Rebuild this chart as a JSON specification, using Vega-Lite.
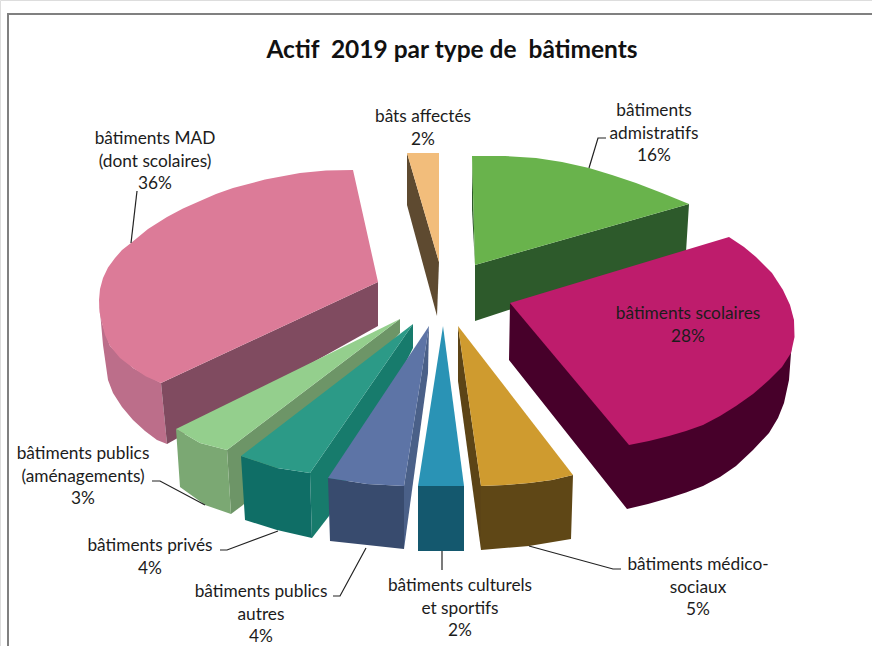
{"$schema":"https://vega.github.io/schema/vega-lite/v6.json","width":872,"height":646,"autosize":{"type":"none"},"padding":0,"background":"white","title":{"text":"Actif \u00a02019 par type de \u00a0bâtiments","orient":"none","anchor":"start","align":"center","baseline":"alphabetic","dx":452,"dy":58,"font":"Lato","fontSize":24.5,"fontWeight":"bold","color":"#111111"},"datasets":{"faces":[
{"face":"mad_ext","n":1,"h":99,"v":300},{"face":"mad_ext","n":2,"h":102,"v":323},{"face":"mad_ext","n":3,"h":110,"v":346},{"face":"mad_ext","n":4,"h":133,"v":368},{"face":"mad_ext","n":5,"h":161,"v":383},{"face":"mad_ext","n":6,"h":167,"v":444},{"face":"mad_ext","n":7,"h":157,"v":440},{"face":"mad_ext","n":8,"h":145,"v":431},{"face":"mad_ext","n":9,"h":133,"v":420},{"face":"mad_ext","n":10,"h":122,"v":407},{"face":"mad_ext","n":11,"h":113,"v":393},{"face":"mad_ext","n":12,"h":108,"v":380},{"face":"mad_ext","n":13,"h":106,"v":366},{"face":"mad_ext","n":14,"h":103,"v":345},
{"face":"mad_coupe","n":1,"h":378,"v":282},{"face":"mad_coupe","n":2,"h":378,"v":326},{"face":"mad_coupe","n":3,"h":167,"v":444},{"face":"mad_coupe","n":4,"h":161,"v":383},
{"face":"mad_dessus","n":1,"h":353,"v":170},{"face":"mad_dessus","n":2,"h":378,"v":282},{"face":"mad_dessus","n":3,"h":161,"v":383},{"face":"mad_dessus","n":4,"h":146,"v":376.5},{"face":"mad_dessus","n":5,"h":133,"v":368},{"face":"mad_dessus","n":6,"h":120,"v":358},{"face":"mad_dessus","n":7,"h":110,"v":346},{"face":"mad_dessus","n":8,"h":105,"v":335},{"face":"mad_dessus","n":9,"h":102,"v":323},{"face":"mad_dessus","n":10,"h":99.5,"v":312},{"face":"mad_dessus","n":11,"h":99,"v":300},{"face":"mad_dessus","n":12,"h":100,"v":289},{"face":"mad_dessus","n":13,"h":103,"v":278},{"face":"mad_dessus","n":14,"h":108,"v":267.5},{"face":"mad_dessus","n":15,"h":115,"v":258},{"face":"mad_dessus","n":16,"h":122,"v":250},{"face":"mad_dessus","n":17,"h":131,"v":243},{"face":"mad_dessus","n":18,"h":148,"v":229},{"face":"mad_dessus","n":19,"h":167,"v":217},{"face":"mad_dessus","n":20,"h":183,"v":208.5},{"face":"mad_dessus","n":21,"h":200,"v":201},{"face":"mad_dessus","n":22,"h":216,"v":194},{"face":"mad_dessus","n":23,"h":233,"v":188},{"face":"mad_dessus","n":24,"h":265,"v":179.5},{"face":"mad_dessus","n":25,"h":300,"v":173},{"face":"mad_dessus","n":26,"h":326,"v":170.5},
{"face":"aff_cote","n":1,"h":407,"v":153},{"face":"aff_cote","n":2,"h":407,"v":205},{"face":"aff_cote","n":3,"h":437,"v":316},{"face":"aff_cote","n":4,"h":439,"v":262},
{"face":"aff_dessus","n":1,"h":407,"v":153},{"face":"aff_dessus","n":2,"h":439,"v":153},{"face":"aff_dessus","n":3,"h":439,"v":262},
{"face":"adm_cote","n":1,"h":472,"v":156},{"face":"adm_cote","n":2,"h":472,"v":210},{"face":"adm_cote","n":3,"h":475,"v":265},
{"face":"adm_coupe","n":1,"h":689,"v":204},{"face":"adm_coupe","n":2,"h":686,"v":252},{"face":"adm_coupe","n":3,"h":475,"v":321},{"face":"adm_coupe","n":4,"h":475,"v":265},
{"face":"adm_dessus","n":1,"h":472,"v":156},{"face":"adm_dessus","n":2,"h":505,"v":156},{"face":"adm_dessus","n":3,"h":536,"v":158},{"face":"adm_dessus","n":4,"h":562,"v":162},{"face":"adm_dessus","n":5,"h":589,"v":168},{"face":"adm_dessus","n":6,"h":612,"v":175},{"face":"adm_dessus","n":7,"h":636,"v":183},{"face":"adm_dessus","n":8,"h":662,"v":193},{"face":"adm_dessus","n":9,"h":689,"v":204},{"face":"adm_dessus","n":10,"h":475,"v":265},
{"face":"sco_cote","n":1,"h":510,"v":303},{"face":"sco_cote","n":2,"h":509,"v":360},{"face":"sco_cote","n":3,"h":627,"v":509},{"face":"sco_cote","n":4,"h":648,"v":504},{"face":"sco_cote","n":5,"h":669,"v":498},{"face":"sco_cote","n":6,"h":686,"v":492.5},{"face":"sco_cote","n":7,"h":703,"v":486},{"face":"sco_cote","n":8,"h":720,"v":477},{"face":"sco_cote","n":9,"h":736,"v":466},{"face":"sco_cote","n":10,"h":753,"v":450},{"face":"sco_cote","n":11,"h":769,"v":433},{"face":"sco_cote","n":12,"h":778,"v":418},{"face":"sco_cote","n":13,"h":784,"v":403},{"face":"sco_cote","n":14,"h":789,"v":380},{"face":"sco_cote","n":15,"h":791,"v":353},{"face":"sco_cote","n":16,"h":794,"v":323},
{"face":"sco_dessus","n":1,"h":729,"v":237},{"face":"sco_dessus","n":2,"h":744,"v":247},{"face":"sco_dessus","n":3,"h":756,"v":257},{"face":"sco_dessus","n":4,"h":772,"v":273},{"face":"sco_dessus","n":5,"h":783,"v":290},{"face":"sco_dessus","n":6,"h":790,"v":305},{"face":"sco_dessus","n":7,"h":794,"v":320},{"face":"sco_dessus","n":8,"h":794.5,"v":337},{"face":"sco_dessus","n":9,"h":791,"v":353},{"face":"sco_dessus","n":10,"h":782,"v":367},{"face":"sco_dessus","n":11,"h":769,"v":380},{"face":"sco_dessus","n":12,"h":753,"v":394},{"face":"sco_dessus","n":13,"h":736,"v":406},{"face":"sco_dessus","n":14,"h":720,"v":416},{"face":"sco_dessus","n":15,"h":703,"v":425},{"face":"sco_dessus","n":16,"h":686,"v":431},{"face":"sco_dessus","n":17,"h":669,"v":436},{"face":"sco_dessus","n":18,"h":649,"v":441},{"face":"sco_dessus","n":19,"h":629,"v":445},{"face":"sco_dessus","n":20,"h":510,"v":303},
{"face":"amg_cote","n":1,"h":400,"v":319},{"face":"amg_cote","n":2,"h":227,"v":450},{"face":"amg_cote","n":3,"h":231,"v":514},{"face":"amg_cote","n":4,"h":243,"v":505},{"face":"amg_cote","n":5,"h":400,"v":333},
{"face":"amg_front","n":1,"h":176,"v":429},{"face":"amg_front","n":2,"h":200,"v":443},{"face":"amg_front","n":3,"h":227,"v":450},{"face":"amg_front","n":4,"h":231,"v":514},{"face":"amg_front","n":5,"h":205,"v":505},{"face":"amg_front","n":6,"h":180,"v":487},
{"face":"amg_dessus","n":1,"h":400,"v":319},{"face":"amg_dessus","n":2,"h":227,"v":450},{"face":"amg_dessus","n":3,"h":200,"v":443},{"face":"amg_dessus","n":4,"h":176,"v":429},
{"face":"pri_cote","n":1,"h":413,"v":324},{"face":"pri_cote","n":2,"h":310,"v":473},{"face":"pri_cote","n":3,"h":312,"v":538},{"face":"pri_cote","n":4,"h":329,"v":516},{"face":"pri_cote","n":5,"h":413,"v":348},
{"face":"pri_front","n":1,"h":241,"v":456},{"face":"pri_front","n":2,"h":277,"v":468},{"face":"pri_front","n":3,"h":310,"v":473},{"face":"pri_front","n":4,"h":312,"v":538},{"face":"pri_front","n":5,"h":277,"v":530},{"face":"pri_front","n":6,"h":245,"v":520},
{"face":"pri_dessus","n":1,"h":413,"v":324},{"face":"pri_dessus","n":2,"h":310,"v":473},{"face":"pri_dessus","n":3,"h":277,"v":468},{"face":"pri_dessus","n":4,"h":241,"v":456},
{"face":"aut_cote","n":1,"h":429,"v":326},{"face":"aut_cote","n":2,"h":404,"v":486},{"face":"aut_cote","n":3,"h":404,"v":549},{"face":"aut_cote","n":4,"h":428,"v":373},
{"face":"aut_front","n":1,"h":328,"v":478},{"face":"aut_front","n":2,"h":367,"v":484},{"face":"aut_front","n":3,"h":404,"v":486},{"face":"aut_front","n":4,"h":404,"v":549},{"face":"aut_front","n":5,"h":367,"v":545},{"face":"aut_front","n":6,"h":330,"v":541},
{"face":"aut_dessus","n":1,"h":429,"v":326},{"face":"aut_dessus","n":2,"h":404,"v":486},{"face":"aut_dessus","n":3,"h":367,"v":484},{"face":"aut_dessus","n":4,"h":328,"v":478},
{"face":"cul_front","n":1,"h":418,"v":486},{"face":"cul_front","n":2,"h":464,"v":486},{"face":"cul_front","n":3,"h":464,"v":551},{"face":"cul_front","n":4,"h":418,"v":551},
{"face":"cul_dessus","n":1,"h":443,"v":326},{"face":"cul_dessus","n":2,"h":464,"v":486},{"face":"cul_dessus","n":3,"h":418,"v":486},
{"face":"med_cote","n":1,"h":458,"v":326},{"face":"med_cote","n":2,"h":481,"v":486},{"face":"med_cote","n":3,"h":481,"v":550},{"face":"med_cote","n":4,"h":458,"v":381},
{"face":"med_front","n":1,"h":481,"v":486},{"face":"med_front","n":2,"h":505,"v":485},{"face":"med_front","n":3,"h":529,"v":483},{"face":"med_front","n":4,"h":552,"v":480},{"face":"med_front","n":5,"h":573,"v":475},{"face":"med_front","n":6,"h":571,"v":539},{"face":"med_front","n":7,"h":529,"v":546},{"face":"med_front","n":8,"h":481,"v":550},
{"face":"med_dessus","n":1,"h":458,"v":326},{"face":"med_dessus","n":2,"h":573,"v":475},{"face":"med_dessus","n":3,"h":552,"v":480},{"face":"med_dessus","n":4,"h":529,"v":483},{"face":"med_dessus","n":5,"h":505,"v":485},{"face":"med_dessus","n":6,"h":481,"v":486}
],"reperes":[
{"batiment":"cadre","n":1,"h":8,"v":646},{"batiment":"cadre","n":2,"h":8,"v":14},{"batiment":"cadre","n":3,"h":872,"v":14}
],"guides":[
{"batiment":"mad","n":1,"h":137,"v":191},{"batiment":"mad","n":2,"h":131,"v":243},
{"batiment":"adm","n":1,"h":606,"v":138},{"batiment":"adm","n":2,"h":598,"v":138},{"batiment":"adm","n":3,"h":589,"v":168},
{"batiment":"med","n":1,"h":621,"v":569},{"batiment":"med","n":2,"h":613,"v":569},{"batiment":"med","n":3,"h":529,"v":546},
{"batiment":"cul","n":1,"h":442,"v":551},{"batiment":"cul","n":2,"h":442,"v":570},
{"batiment":"aut","n":1,"h":333,"v":596},{"batiment":"aut","n":2,"h":340,"v":596},{"batiment":"aut","n":3,"h":366,"v":548},
{"batiment":"pri","n":1,"h":220,"v":550},{"batiment":"pri","n":2,"h":227,"v":550},{"batiment":"pri","n":3,"h":278,"v":531},
{"batiment":"amg","n":1,"h":152,"v":481},{"batiment":"amg","n":2,"h":160,"v":481},{"batiment":"amg","n":3,"h":205,"v":505}
],"etiquettes":[
{"etiquette":"bâtiments MAD\n(dont scolaires)\n36%","part":36,"h":155,"v":144},
{"etiquette":"bâts affectés\n2%","part":2,"h":423,"v":122},
{"etiquette":"bâtiments\nadmistratifs\n16%","part":16,"h":654,"v":116},
{"etiquette":"bâtiments scolaires\n28%","part":28,"h":688,"v":319},
{"etiquette":"bâtiments médico-\nsociaux\n5%","part":5,"h":698,"v":570},
{"etiquette":"bâtiments culturels\net sportifs\n2%","part":2,"h":460,"v":591},
{"etiquette":"bâtiments publics\nautres\n4%","part":4,"h":261,"v":597},
{"etiquette":"bâtiments privés\n4%","part":4,"h":150,"v":551},
{"etiquette":"bâtiments publics\n(aménagements)\n3%","part":3,"h":83,"v":459}
]},"layer":[
{"data":{"name":"faces"},"mark":{"type":"line","filled":true,"strokeWidth":0},"encoding":{"x":{"field":"h","type":"quantitative","scale":{"domain":[0,872],"nice":false,"zero":false},"axis":null},"y":{"field":"v","type":"quantitative","scale":{"domain":[646,0],"nice":false,"zero":false},"axis":null},"order":{"field":"n","type":"quantitative"},"detail":{"field":"face"},"fill":{"field":"face","type":"nominal","legend":null,"scale":{"domain":["mad_ext","mad_coupe","mad_dessus","aff_cote","aff_dessus","adm_cote","adm_coupe","adm_dessus","sco_cote","sco_dessus","amg_cote","amg_front","amg_dessus","pri_cote","pri_front","pri_dessus","aut_cote","aut_front","aut_dessus","cul_front","cul_dessus","med_cote","med_front","med_dessus"],"range":["#BC6E8A","#804B60","#DC7B98","#5E4A30","#F2BD7B","#2D5A2B","#2D5A2B","#69B34C","#47002A","#BE1C6C","#6D9567","#7BA873","#94CF8D","#177B6C","#0F6E66","#2C9A87","#4A6088","#384B6E","#5D74A6","#14586E","#2A93B5","#5C4416","#5F4716","#CF9B2F"]}}}},
{"data":{"name":"guides"},"mark":{"type":"line","stroke":"#222222","strokeWidth":1.2},"encoding":{"x":{"field":"h","type":"quantitative"},"y":{"field":"v","type":"quantitative"},"order":{"field":"n","type":"quantitative"},"detail":{"field":"batiment"}}},
{"data":{"name":"reperes"},"mark":{"type":"line","stroke":"#808080","strokeWidth":2},"encoding":{"x":{"field":"h","type":"quantitative"},"y":{"field":"v","type":"quantitative"},"order":{"field":"n","type":"quantitative"},"detail":{"field":"batiment"}}},
{"data":{"name":"etiquettes"},"mark":{"type":"text","font":"Lato","fontSize":17.3,"lineBreak":"\n","lineHeight":22.7,"align":"center","baseline":"alphabetic","color":"#1c1c1c"},"encoding":{"x":{"field":"h","type":"quantitative"},"y":{"field":"v","type":"quantitative"},"text":{"field":"etiquette"}}}
]}
